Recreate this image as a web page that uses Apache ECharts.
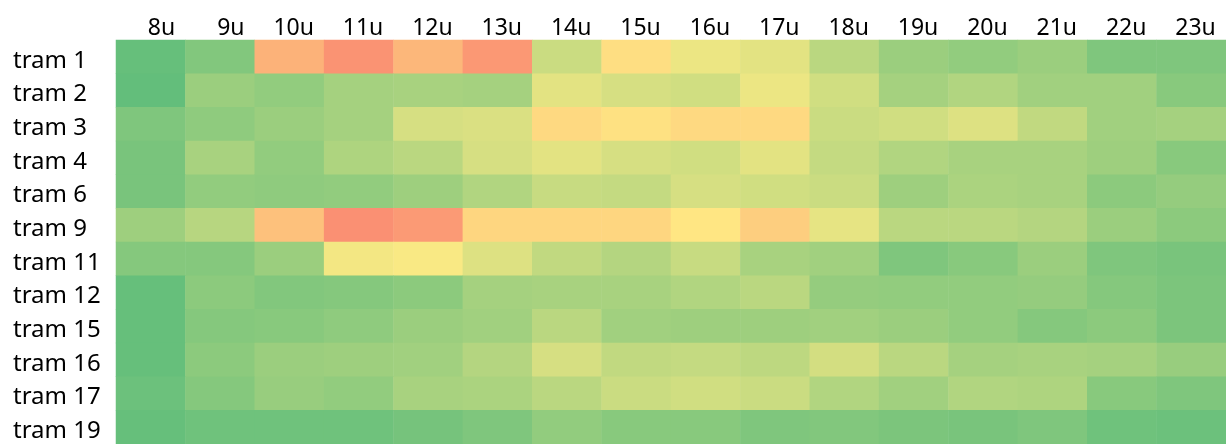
<!DOCTYPE html>
<html>
<head>
<meta charset="utf-8">
<script src="https://cdn.jsdelivr.net/npm/echarts@6/dist/echarts.min.js"></script>
<style>
  html, body { margin: 0; padding: 0; background: #fff; }
  #chart { width: 1226px; height: 444px; }
</style>
</head>
<body>
<div id="chart"></div>
<script>
const hours = ['8u', '9u', '10u', '11u', '12u', '13u', '14u', '15u', '16u', '17u', '18u', '19u', '20u', '21u', '22u', '23u'];
const trams = ['tram 1', 'tram 2', 'tram 3', 'tram 4', 'tram 6', 'tram 9', 'tram 11', 'tram 12', 'tram 15', 'tram 16', 'tram 17', 'tram 19'];

// score per tram per hour (0 = green, 50 = yellow, 100 = red)
const tram1 = [1, 10, 72, 84, 70, 82, 33, 55, 44, 41, 28, 18, 15, 18, 9, 9];
const tram2 = [0, 18, 15, 21, 22, 21, 41, 37, 35, 44, 35, 21, 25, 20, 20, 12];
const tram3 = [9, 14, 18, 21, 37, 38, 57, 54, 57, 57, 33, 35, 39, 30, 20, 21];
const tram4 = [7, 22, 15, 24, 28, 37, 41, 37, 35, 41, 31, 25, 22, 22, 19, 12];
const tram6 = [7, 15, 14, 15, 19, 25, 32, 31, 37, 35, 33, 19, 23, 22, 13, 16];
const tram9 = [19, 27, 66, 85, 81, 58, 58, 58, 52, 61, 42, 28, 28, 26, 18, 13];
const tram11 = [11, 11, 18, 46, 48, 39, 30, 26, 32, 22, 20, 9, 12, 18, 9, 7];
const tram12 = [1, 13, 10, 11, 13, 21, 22, 22, 25, 28, 16, 15, 15, 16, 11, 8];
const tram15 = [1, 11, 12, 14, 18, 20, 28, 20, 19, 19, 20, 18, 15, 11, 13, 8];
const tram16 = [1, 13, 18, 19, 20, 26, 37, 30, 31, 29, 36, 28, 21, 22, 21, 17];
const tram17 = [3, 11, 17, 15, 22, 23, 28, 33, 35, 33, 25, 20, 25, 24, 12, 9];
const tram19 = [1, 4, 4, 4, 6, 9, 15, 12, 12, 9, 10, 8, 7, 9, 4, 3];

const rows = [tram1, tram2, tram3, tram4, tram6, tram9, tram11, tram12, tram15, tram16, tram17, tram19];

const data = [];
rows.forEach((row, y) => {
  row.forEach((v, x) => {
    data.push([x, y, v]);
  });
});

const chart = echarts.init(document.getElementById('chart'));

const option = {
  animation: false,
  grid: {
    left: 116,
    top: 40,
    width: 1116,
    height: 408
  },
  xAxis: {
    type: 'category',
    position: 'top',
    data: hours,
    axisLine: { show: false },
    axisTick: { show: false },
    splitArea: { show: false },
    axisLabel: {
      interval: 0,
      margin: 0,
      // labels sit right-aligned near the right edge of each column
      formatter: v => '{h|' + v + '}',
      rich: {
        h: {
          width: 49,
          align: 'right',
          color: '#000',
          fontSize: 23,
          fontFamily: 'Noto Sans'
        }
      }
    }
  },
  yAxis: {
    type: 'category',
    inverse: true,
    data: trams,
    axisLine: { show: false },
    axisTick: { show: false },
    splitArea: { show: false },
    axisLabel: {
      interval: 0,
      align: 'left',
      margin: 103,
      formatter: v => '{t|' + v + '}',
      rich: {
        t: {
          color: '#000',
          fontSize: 24,
          fontFamily: 'Noto Sans',
          padding: [8, 0, 0, 0]
        }
      }
    }
  },
  visualMap: {
    show: false,
    min: 0,
    max: 100,
    dimension: 2,
    inRange: {
      color: ['#63be7b', '#ffeb84', '#f8696b']
    }
  },
  series: [
    {
      type: 'heatmap',
      data: data,
      itemStyle: { borderWidth: 0 },
      emphasis: { disabled: true }
    }
  ]
};

chart.setOption(option);
</script>
</body>
</html>
